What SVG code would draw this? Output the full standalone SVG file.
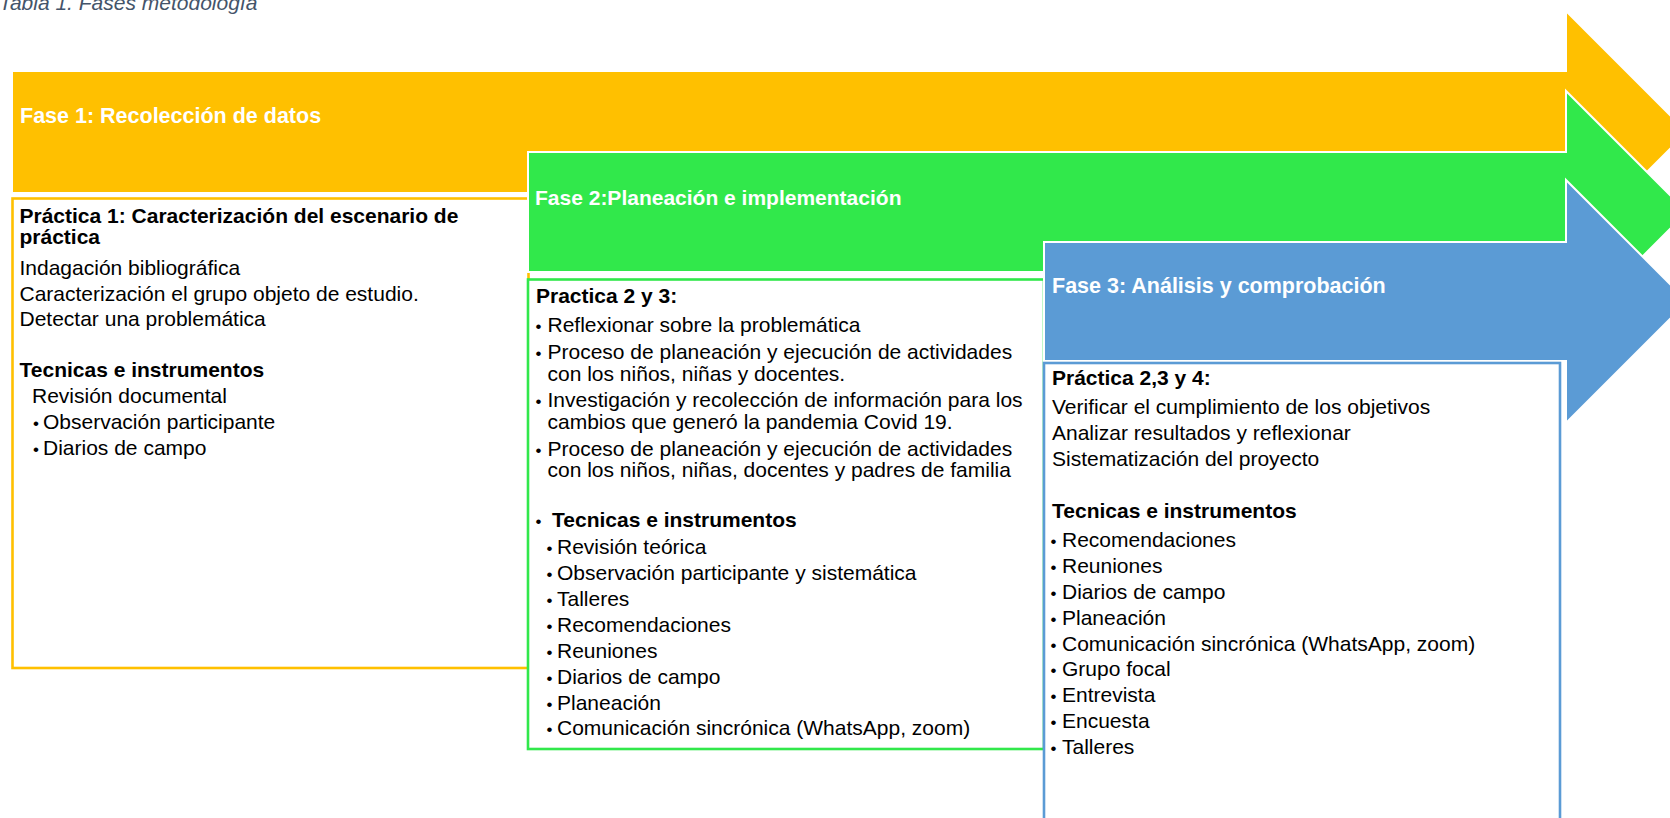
<svg xmlns="http://www.w3.org/2000/svg" width="1670" height="818" viewBox="0 0 1670 818">
<style>
  text { font-family: "Liberation Sans", Arial, sans-serif; font-size: 21px; fill: #000; }
  .cap { font-style: italic; font-size: 21px; fill: #44546A; }
  .hdr { font-weight: bold; font-size: 21.5px; fill: #FFFFFF; }
  .b { font-weight: bold; }
  .d { font-size: 17px; }
  .arrow { stroke: #FFFFFF; stroke-width: 2; }
  .box { fill: #FFFFFF; stroke-width: 2.6; }
  .y { fill: #FFC000; }
  .g { fill: #31E84B; }
  .bl { fill: #5B9BD5; }
</style>
<rect x="0" y="0" width="1670" height="818" fill="#FFFFFF"/>
<text class="cap" x="-1" y="10">Tabla 1. Fases metodología</text>

<g id="fase1">
  <path class="arrow y" d="M12,71 H1566 V11 L1687,132 L1566,253 V193 H12 Z"/>
  <text class="hdr" x="20" y="123">Fase 1: Recolección de datos</text>
</g>
<g id="practica1">
  <rect class="box" x="12.5" y="198.5" width="516" height="469.5" stroke="#FFC000"/>
  <text class="b" x="19.5" y="223">Práctica 1: Caracterización del escenario de</text>
  <text class="b" x="19.5" y="244">práctica</text>
  <text x="19.5" y="275">Indagación bibliográfica</text>
  <text x="19.5" y="300.5">Caracterización el grupo objeto de estudio.</text>
  <text x="19.5" y="326">Detectar una problemática</text>
  <text class="b" x="19.5" y="377">Tecnicas e instrumentos</text>
  <text x="32" y="403">Revisión documental</text>
  <text y="429"><tspan class="d" x="33">•</tspan><tspan x="43">Observación participante</tspan></text>
  <text y="455"><tspan class="d" x="33">•</tspan><tspan x="43">Diarios de campo</tspan></text>
</g>

<g id="fase2">
  <path class="arrow g" d="M528,152 H1566 V91 L1687,212 L1566,333 V272 H528 Z"/>
  <text class="hdr" x="535" y="205" style="font-size:21px">Fase 2:Planeación e implementación</text>
</g>
<g id="practica2y3">
  <rect class="box" x="528" y="279.5" width="516" height="469.5" stroke="#31E84B"/>
  <text class="b" x="536" y="303">Practica 2 y 3:</text>
  <text y="332"><tspan class="d" x="535.5">•</tspan><tspan x="547.5">Reflexionar sobre la problemática</tspan></text>
  <text y="359"><tspan class="d" x="535.5">•</tspan><tspan x="547.5">Proceso de planeación y ejecución de actividades</tspan></text>
  <text x="547.5" y="381">con los niños, niñas y docentes.</text>
  <text y="407"><tspan class="d" x="535.5">•</tspan><tspan x="547.5">Investigación y recolección de información para los</tspan></text>
  <text x="547.5" y="429">cambios que generó la pandemia Covid 19.</text>
  <text y="455.5"><tspan class="d" x="535.5">•</tspan><tspan x="547.5">Proceso de planeación y ejecución de actividades</tspan></text>
  <text x="547.5" y="477">con los niños, niñas, docentes y padres de familia</text>
  <text y="527"><tspan class="d" x="535.5">•</tspan><tspan class="b" x="552">Tecnicas e instrumentos</tspan></text>
  <text y="554"><tspan class="d" x="546.5">•</tspan><tspan x="557">Revisión teórica</tspan></text>
  <text y="580"><tspan class="d" x="546.5">•</tspan><tspan x="557">Observación participante y sistemática</tspan></text>
  <text y="606"><tspan class="d" x="546.5">•</tspan><tspan x="557">Talleres</tspan></text>
  <text y="632"><tspan class="d" x="546.5">•</tspan><tspan x="557">Recomendaciones</tspan></text>
  <text y="657.5"><tspan class="d" x="546.5">•</tspan><tspan x="557">Reuniones</tspan></text>
  <text y="683.5"><tspan class="d" x="546.5">•</tspan><tspan x="557">Diarios de campo</tspan></text>
  <text y="709.5"><tspan class="d" x="546.5">•</tspan><tspan x="557">Planeación</tspan></text>
  <text y="735"><tspan class="d" x="546.5">•</tspan><tspan x="557">Comunicación sincrónica (WhatsApp, zoom)</tspan></text>
</g>

<g id="fase3">
  <path class="arrow bl" d="M1044,242 H1566 V180 L1687.5,301.5 L1566,423 V361 H1044 Z"/>
  <text class="hdr" x="1052" y="293">Fase 3: Análisis y comprobación</text>
</g>
<g id="practica234">
  <rect class="box" x="1044" y="363" width="516" height="470" stroke="#5B9BD5"/>
  <text class="b" x="1052" y="385">Práctica 2,3 y 4:</text>
  <text x="1052" y="414">Verificar el cumplimiento de los objetivos</text>
  <text x="1052" y="440">Analizar resultados y reflexionar</text>
  <text x="1052" y="466">Sistematización del proyecto</text>
  <text class="b" x="1052" y="518">Tecnicas e instrumentos</text>
  <text y="547"><tspan class="d" x="1050.5">•</tspan><tspan x="1062">Recomendaciones</tspan></text>
  <text y="573"><tspan class="d" x="1050.5">•</tspan><tspan x="1062">Reuniones</tspan></text>
  <text y="599"><tspan class="d" x="1050.5">•</tspan><tspan x="1062">Diarios de campo</tspan></text>
  <text y="625"><tspan class="d" x="1050.5">•</tspan><tspan x="1062">Planeación</tspan></text>
  <text y="650.5"><tspan class="d" x="1050.5">•</tspan><tspan x="1062">Comunicación sincrónica (WhatsApp, zoom)</tspan></text>
  <text y="676"><tspan class="d" x="1050.5">•</tspan><tspan x="1062">Grupo focal</tspan></text>
  <text y="702"><tspan class="d" x="1050.5">•</tspan><tspan x="1062">Entrevista</tspan></text>
  <text y="728"><tspan class="d" x="1050.5">•</tspan><tspan x="1062">Encuesta</tspan></text>
  <text y="754"><tspan class="d" x="1050.5">•</tspan><tspan x="1062">Talleres</tspan></text>
</g>
<g id="connectors"></g>
</svg>
